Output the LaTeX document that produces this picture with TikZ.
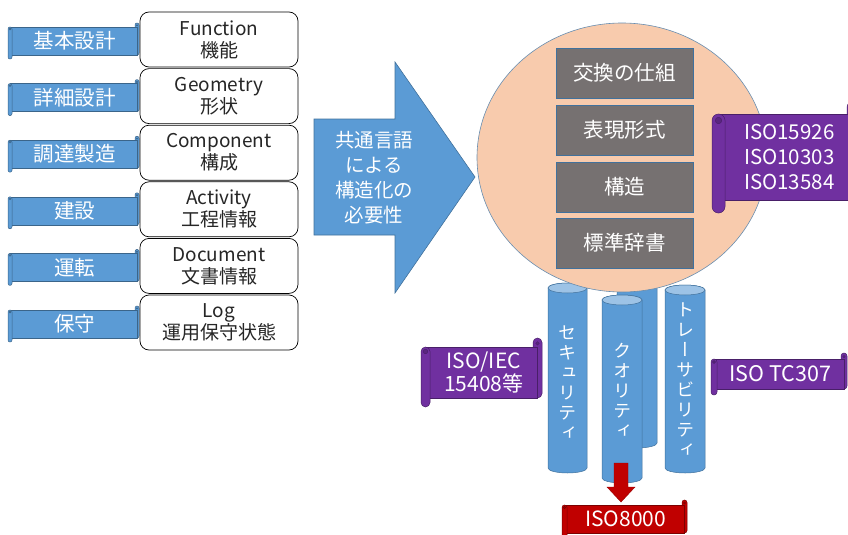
\documentclass[tikz,border=0pt]{standalone}
\usepackage{fontspec}
\setmainfont{Noto Sans CJK JP}
\newfontfamily\cjkv[RawFeature={+vert}]{Noto Sans CJK JP}
\definecolor{pblue}{HTML}{5B9BD5}
\definecolor{pblueD}{HTML}{41719C}
\definecolor{plight}{HTML}{9DC3E6}
\definecolor{pgray}{HTML}{767171}
\definecolor{ppeach}{HTML}{F8CBAD}
\definecolor{ppurple}{HTML}{7030A0}
\definecolor{pred}{HTML}{C00000}
\tikzset{
  boxlbl/.style={draw=black, fill=white, rounded corners=9pt, minimum width=158pt, minimum height=55pt,
    align=center, font=\fontsize{19}{22}\selectfont, text=black!85, inner sep=0pt, line width=0.7pt},
  graybox/.style={draw=pblueD, fill=pgray, minimum width=137pt, minimum height=50pt, text=white,
    font=\fontsize{20.5}{22}\selectfont, line width=0.6pt},
  sctext/.style={text=white, align=center, inner sep=0pt},
  vtext/.style={text=white, align=center, inner sep=0pt, font=\cjkv\fontsize{18}{20}\selectfont},
  cylbody/.style={fill=pblue, draw=pblueD, line width=0.5pt},
  cyltop/.style={fill=plight, draw=pblueD, line width=0.5pt},
}
% name, x1, y1, x2, y2, r, colour, font, text
\newcommand\hscroll[9]{%
  \draw[draw=#7!65!black, fill=#7, line width=0.5pt, rounded corners=0.5*#6pt]
    ({#4-#6},{#3}) rectangle ({#4},{#5-#6});
  \draw[draw=#7!65!black, fill=#7, line width=0.5pt]
    ({#2+0.5*#6},{#3+#6}) rectangle ({#4-0.5*#6},{#5-#6});
  \draw[draw=#7!65!black, fill=#7, line width=0.5pt, rounded corners=0.5*#6pt]
    ({#2},{#3+#6}) rectangle ({#2+#6},{#5});
  \draw[draw=#7!65!black, fill=#7!80!black, line width=0.4pt]
    ({#2+0.5*#6},{#3+1.5*#6}) circle[radius=0.25*#6pt];
  \draw[draw=#7!65!black, fill=#7!80!black, line width=0.4pt]
    ({#4-0.5*#6},{#3+0.6*#6}) circle[radius=0.2*#6pt];
  \node[sctext, font=#8] (#1) at ({(#2+#6+#4-0.5*#6)/2},{(#3+#5)/2}) {#9};
}
\begin{document}
\begin{tikzpicture}[x=1pt,y=-1pt]
\useasboundingbox (0,0) rectangle (848,535);
\clip (0,0) rectangle (848,535);

% left column
\foreach \i/\en/\jp/\lab in {0/Function/機能/基本設計, 1/Geometry/形状/詳細設計, 2/Component/構成/調達製造,
    3/Activity/工程情報/建設, 4/Document/文書情報/運転, 5/Log/運用保守状態/保守}{
  \pgfmathsetmacro\yt{23+56.6*\i}
  \pgfmathsetmacro\yb{59+56.6*\i}
  \hscroll{lab\i}{8}{\yt}{139}{\yb}{4}{pblue}{\fontsize{20.5}{22}\selectfont}{\lab}
  \node[boxlbl] (box\i) at (219,{39.5+56.6*\i}) {\en\\\jp};
}

% big arrow
\draw[fill=pblue, draw=pblueD, line width=0.6pt]
  (314,119) -- (395,119) -- (395,62) -- (475,177) -- (395,293) -- (395,235) -- (314,235) -- cycle;
\node[sctext, font=\fontsize{19.5}{25}\selectfont] (need) at (374,177.5) {共通言語\\による\\構造化の\\必要性};

% cylinders
\newcommand\cyl[4]{% x1, x2, ytop, ybot (centres of ellipses)
  \draw[cylbody] (#1,#3) -- (#1,#4) arc[start angle=180, end angle=360, x radius={(#2-#1)/2*1pt}, y radius=5pt]
    -- (#2,#3) arc[start angle=0, end angle=180, x radius={(#2-#1)/2*1pt}, y radius=5pt] -- cycle;
  \draw[cyltop] ({(#1+#2)/2},#3) ellipse[x radius={(#2-#1)/2*1pt}, y radius=5pt];
}
\cyl{617}{657}{250}{443}
\cyl{548}{587}{288}{468}
\cyl{665}{705}{290}{468}
\cyl{602}{642}{300}{478}
\node[vtext] (sec) at (567.5,383) {セ\\キ\\ュ\\リ\\テ\\ィ};
\node[vtext] (qual) at (622,390) {ク\\オ\\リ\\テ\\ィ};
\node[vtext] (trace) at (685,380) {ト\\レ\\ー\\サ\\ビ\\リ\\テ\\ィ};

% circle
\draw[fill=ppeach, draw=pblueD!80, line width=0.6pt] (622,157.5) ellipse[x radius=145pt, y radius=134.5pt];
\node[graybox] (g1) at (624.5,73) {交換の仕組};
\node[graybox] (g2) at (624.5,130) {表現形式};
\node[graybox] (g3) at (624.5,187) {構造};
\node[graybox] (g4) at (624.5,243) {標準辞書};

% scrolls
\hscroll{iso15926}{712}{101}{860}{213}{13}{ppurple}{\fontsize{20.5}{25}\selectfont}{ISO15926\\ISO10303\\ISO13584}
\hscroll{isoiec}{421}{338}{542}{407}{9}{ppurple}{\fontsize{21}{21}\selectfont}{ISO/IEC\\15408等}
\hscroll{tc307}{711}{353}{847}{395}{6}{ppurple}{\fontsize{21.5}{22}\selectfont}{ISO TC307}

% red arrow
\coordinate (a1) at (614,463);
\draw[fill=pred, draw=pred!80!black, line width=0.4pt]
  (a1) -- (628,463) -- (628,487) -- (635,487) -- (621,502) -- (607,487) -- (614,487) -- cycle;
\hscroll{iso8000}{562}{500}{687}{538}{5}{pred}{\fontsize{21}{22}\selectfont}{ISO8000}
\end{tikzpicture}
\end{document}
